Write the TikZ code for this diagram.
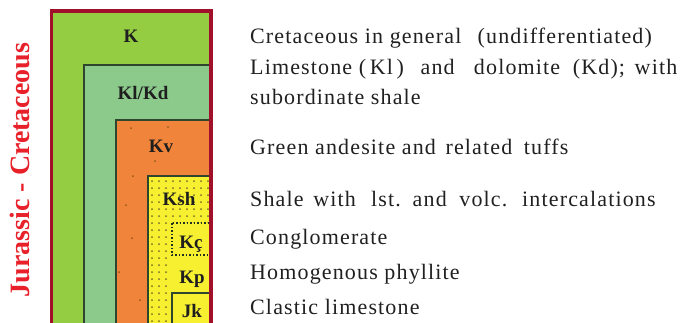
\documentclass[tikz,border=0pt]{standalone}
\usepackage{xcolor}
\usepackage{fontspec}
\setmainfont{Liberation Serif}
\newfontfamily\legendfont[LetterSpace=5.2]{Liberation Serif}
\usepackage{tikz}
\usetikzlibrary{positioning}

\definecolor{frameRed}{RGB}{160,16,42}
\definecolor{titleRed}{RGB}{232,32,42}
\definecolor{edgeGreen}{RGB}{46,70,46}
\definecolor{kGreen}{RGB}{148,205,66}
\definecolor{kdGreen}{RGB}{140,202,140}
\definecolor{kvOrange}{RGB}{240,132,58}
\definecolor{kshYellow}{RGB}{246,240,48}
\definecolor{dotOlive}{RGB}{120,110,40}
\definecolor{legendGray}{RGB}{32,32,32}

\begin{document}
\begin{tikzpicture}[
  x=1pt, y=-1pt,
  unit/.style={draw=edgeGreen, line width=1.4pt},
  code/.style={font=\fontsize{19}{19}\selectfont\bfseries, text=black!88, inner sep=0pt, anchor=base},
  legend/.style={font=\fontsize{22}{22}\selectfont\legendfont, text=legendGray, inner sep=0pt, anchor=base west},
  speck/.style={fill=dotOlive}
]
\useasboundingbox (0,0) rectangle (688,322);
% units, outer to inner
\fill[kGreen] (51.5,11) rectangle (211,334);
\filldraw[unit, fill=kdGreen] (84,65) rectangle (211,334);
\filldraw[unit, fill=kvOrange] (116,120) rectangle (211,334);
\foreach \p in {(131,128),(168,127),(155,161),(133,176),(132,238),(119,272),(140,300),(126,205)}{\fill[dotOlive!80!red] \p circle (1pt);}
\filldraw[unit, fill=kshYellow] (148,176) rectangle (211,334);
\begin{scope}
  \clip (148.7,176.7) rectangle (210,334);
  \foreach \x in {152,159,...,212}{\foreach \y in {181,188,...,330}{\fill[speck] (\x,\y) circle (1pt);}}
\end{scope}
\fill[kshYellow] (172,255) rectangle (210,293);
\filldraw[kshYellow, draw=edgeGreen!70!black, line width=1.3pt, dash pattern=on 1.5pt off 2pt] (172,223) rectangle (211,255);
\filldraw[unit, fill=kshYellow] (172,293) rectangle (211,334);
\draw[frameRed, line width=3.5pt] (51.5,11) rectangle (211,334);
% map codes
\node[code] (k) at (131,42) {K};
\node[code] (kd) at (143,99) {Kl/Kd};
\node[code] (kv) at (161,152) {Kv};
\node[code] (ksh) at (179,205) {Ksh};
\node[code] (kc) at (191,248) {Kç};
\node[code] (kp) at (192,283) {Kp};
\node[code] (jk) at (192,317) {Jk};
% age
\node[rotate=90, text=titleRed, font=\fontsize{28}{28}\selectfont\bfseries, inner sep=0pt] (age) at (20,170) {Jurassic - Cretaceous};
% legend texts
\node[legend] (tk) at (250,43) {Cretaceous in general \ \hspace{3pt}(undifferentiated)};
\node[legend] (tkd) at (250,74) {Limestone (\,Kl\,)\hspace{10pt} and \ \hspace{6pt}dolomite \hspace{6pt}(Kd);\hspace{3pt} with};
\node[legend] (tkd2) at (250,104) {subordinate shale};
\node[legend] (tkv) at (250,154) {Green andesite and \hspace{3pt}related \hspace{5pt}tuffs};
\node[legend] (tksh) at (250,206) {Shale \hspace{3pt}with \ \hspace{2pt}lst. \hspace{3pt}and \hspace{6pt}volc. \hspace{6pt}intercalations};
\node[legend] (tkc) at (250,244) {Conglomerate};
\node[legend] (tkp) at (250,279) {Homogenous phyllite};
\node[legend] (tjk) at (250,314) {Clastic limestone};
\end{tikzpicture}
\end{document}
